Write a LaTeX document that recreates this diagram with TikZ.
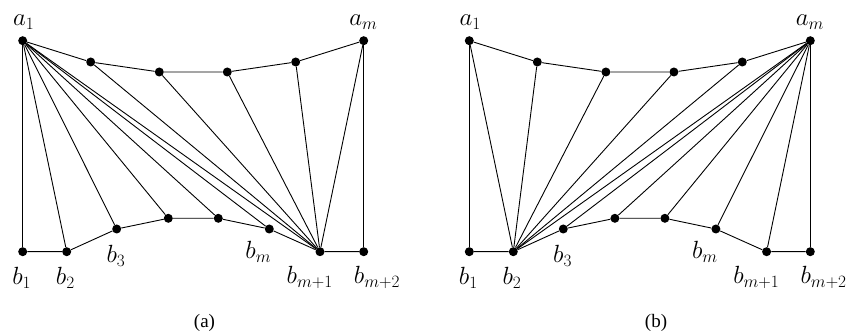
\documentclass[tikz,border=0pt]{standalone}
\usepackage{fontspec}
\newfontfamily\capfont{Liberation Serif}
\tikzset{
  dot/.style={circle,fill=black,inner sep=0pt,minimum size=9pt},
  edge/.style={line width=0.9pt,black},
  lab/.style={anchor=base,inner sep=0pt,font=\fontsize{25}{30}\selectfont},
  captext/.style={inner sep=0pt,font=\capfont\fontsize{19}{22}\selectfont}
}
\newcommand\mypoints{%
  \node[dot] (a1) at (22.7,40.7) {};
  \node[dot] (t2) at (90.7,62) {};
  \node[dot] (t3) at (159.3,72) {};
  \node[dot] (t4) at (227.3,72) {};
  \node[dot] (t5) at (295.7,62) {};
  \node[dot] (am) at (363.7,40.7) {};
  \node[dot] (b1) at (22.7,251.7) {};
  \node[dot] (b2) at (66.7,251.7) {};
  \node[dot] (b3) at (116.7,229) {};
  \node[dot] (b4) at (168.3,218.3) {};
  \node[dot] (b5) at (218.3,218.3) {};
  \node[dot] (bm) at (269.3,229) {};
  \node[dot] (bp1) at (320,251.7) {};
  \node[dot] (bp2) at (363.7,251.7) {};
  \draw[edge] (a1) -- (t2) -- (t3) -- (t4) -- (t5) -- (am);
  \draw[edge] (b1) -- (b2) -- (b3) -- (b4) -- (b5) -- (bm) -- (bp1) -- (bp2);
  \draw[edge] (a1) -- (b1);
  \draw[edge] (am) -- (bp2);
  \node[lab] (la1) at (23.7,26) {$a_1$};
  \node[lab] (lam) at (363.3,26) {$a_m$};
  \node[lab] (lb1) at (21.7,285) {$b_1$};
  \node[lab] (lb2) at (65.3,285) {$b_2$};
  \node[lab] (lb3) at (116,263) {$b_3$};
  \node[lab] (lbm) at (258.3,258.3) {$b_m$};
  \node[lab] (lbp1) at (309.7,283.5) {$b_{m+1}$};
  \node[lab] (lbp2) at (377,283.5) {$b_{m+2}$};
}
\begin{document}
\begin{tikzpicture}[x=1pt,y=-1pt]
  \useasboundingbox (0,0) rectangle (852,331);
  \begin{scope}[name prefix=L-]
    \mypoints
    \foreach \p in {b2,b3,b4,b5,bm,bp1} \draw[edge] (a1) -- (\p);
    \foreach \p in {t2,t3,t4,t5,am} \draw[edge] (bp1) -- (\p);
  \end{scope}
  \begin{scope}[xshift=446.6pt,name prefix=R-]
    \mypoints
    \draw[edge] (a1) -- (b2);
    \foreach \p in {t2,t3,t4,t5,am} \draw[edge] (b2) -- (\p);
    \foreach \p in {b3,b4,b5,bm,bp1} \draw[edge] (am) -- (\p);
  \end{scope}
  \node[captext] (capa) at (204.5,322.5) {(a)};
  \node[captext] (capb) at (656,322.5) {(b)};
\end{tikzpicture}
\end{document}
